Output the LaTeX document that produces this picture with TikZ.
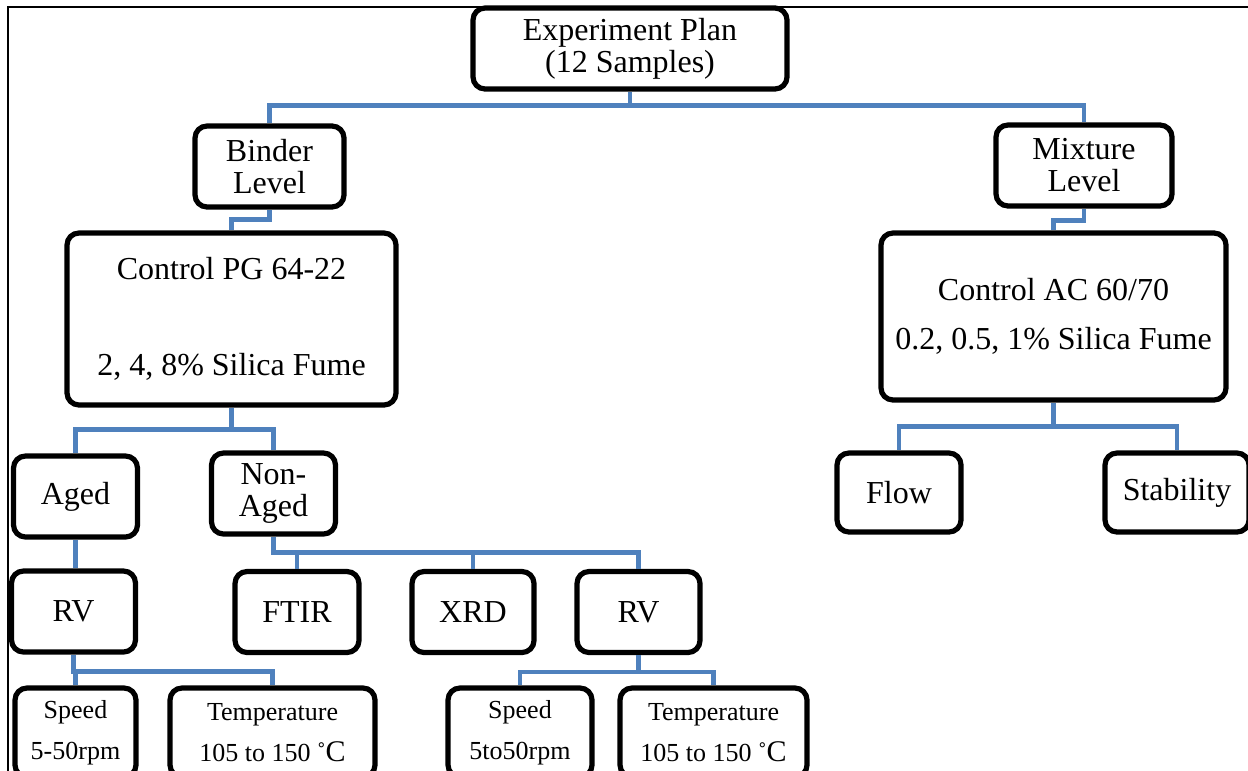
\documentclass[tikz,border=0pt]{standalone}
\usepackage{fontspec}
\setmainfont{Liberation Serif}
\usepackage{tikz}
\usetikzlibrary{positioning, calc}
\definecolor{linkblue}{HTML}{4F81BD}
\tikzstyle{Link} = [
%Connector style:
draw = linkblue, line width = 2.2pt
]

\begin{document}
\begin{tikzpicture}[x = 0.5pt, y = -0.5pt,
				box/.style = {rectangle, draw, line width = 2.6pt, rounded corners = 6pt, align = center, inner sep = 0pt, minimum width = 62pt, minimum height = 40.5pt, font = \fontsize{16}{16}\selectfont},
				small/.style = {box, minimum height = 44.5pt, font = \fontsize{13}{20.5}\selectfont},
			]
			\useasboundingbox (0,0) rectangle (1248,771);
			\clip (0,0) rectangle (1248,771);
			\draw[line width = 0.8pt] (8,7) rectangle (1275,800);

			\node[box, minimum width = 157pt](Plan) at (630,48.5){Experiment Plan\\(12 Samples)};
			\node[box, minimum width = 74.5pt](Bind) at (269.5,166.5){Binder\\Level};
			\node[box, minimum width = 88pt](Mix) at (1084,165.5){Mixture\\Level};
			\node[box, minimum width = 164.5pt, minimum height = 86pt](PG) at (231.5,319){Control PG 64-22\\[32pt]2, 4, 8\% Silica Fume};
			\node[box, minimum width = 172.5pt, minimum height = 83.5pt](AC) at (1053.5,316.5){Control AC 60/70\\[8.5pt]0.2, 0.5, 1\% Silica Fume};
			\node[box](Aged) at (75.5,496.5){Aged};
			\node[box](Non) at (273.5,493.5){Non-\\Aged};
			\node[box, minimum height = 39.5pt](Flow) at (899,492.5){Flow};
			\node[box, minimum width = 72pt, minimum height = 39.5pt](Stab) at (1177,492.5){Stability};
			\node[box](RVa) at (73.5,611.5){RV};
			\node[box](FTIR) at (297,612){FTIR};
			\node[box, minimum width = 61pt](XRD) at (473,612){XRD};
			\node[box, minimum width = 61.5pt](RVb) at (638.5,612){RV};
			\node[small, minimum width = 60.5pt](SpdA) at (75.5,732.5){Speed\\5-50rpm};
			\node[small, minimum width = 102.5pt](TmpA) at (272.5,732.5){Temperature\\105 to 150 ˚{\fontsize{15}{15}\selectfont C}};
			\node[small, minimum width = 72pt](SpdB) at (520,732.5){Speed\\5to50rpm};
			\node[small, minimum width = 93.5pt](TmpB) at (713.5,732.5){Temperature\\105 to 150 ˚{\fontsize{15}{15}\selectfont C}};

			\draw[Link](Plan.south) -- ++(0,14) -| (Bind.north);
			\draw[Link](Plan.south) -- ++(0,14) -| (Mix.north);
			\draw[Link](Bind.south) -- ++(0,10) -| (PG.north);
			\draw[Link](Mix.south) -- ++(0,12) -| (AC.north);
			\draw[Link](PG.south) -- ++(0,22) -| (Aged.north);
			\draw[Link](PG.south) -- ++(0,22) -| (Non.north);
			\draw[Link](AC.south) -- ++(0,24) -| (Flow.north);
			\draw[Link](AC.south) -- ++(0,24) -| (Stab.north);
			\draw[Link](Aged.south) -- (Aged.south |- RVa.north);
			\foreach \t in {FTIR, XRD, RVb}
				\draw[Link](Non.south) -- ++(0,16) -| (\t.north);
			\draw[Link](RVa.south) -- ++(0,17) -| (SpdA.north);
			\draw[Link](RVa.south) -- ++(0,17) -| (TmpA.north);
			\draw[Link](RVb.south) -- ++(0,17) -| (SpdB.north);
			\draw[Link](RVb.south) -- ++(0,17) -| (TmpB.north);

		\end{tikzpicture}
\end{document}
